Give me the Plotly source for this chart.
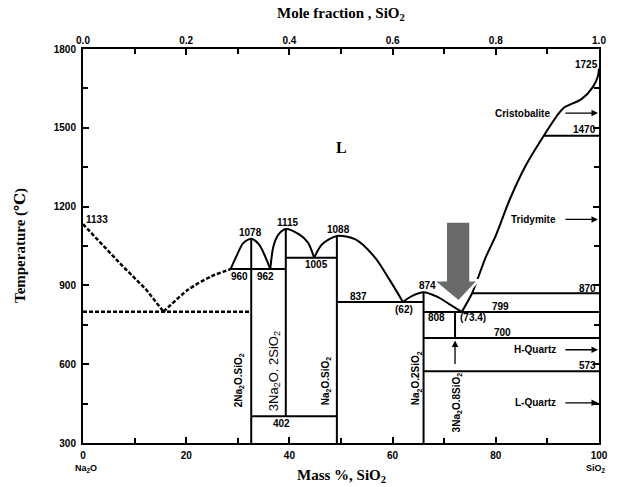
import plotly.graph_objects as go

# ---------------- data ----------------
# liquidus branches (mass % SiO2, temperature C)
dash_left_x = [0, 7.6, 12.2, 15.6]
dash_left_y = [1133, 975, 885, 800]
dash_right_x = [15.6, 20.4, 24.8, 28.6]
dash_right_y = [800, 884, 934, 962]
eutectic_dash_x = [0, 32.6]
eutectic_dash_y = [800, 800]

dome1_x = [28.6, 29.9, 31.0, 32.6, 34.1, 35.4, 36.3]
dome1_y = [962, 1018, 1060, 1078, 1056, 1006, 962]
dome2_x = [36.3, 36.9, 37.9, 39.3, 41.9, 43.6, 44.8]
dome2_y = [962, 1048, 1094, 1115, 1094, 1063, 1005]
dome3_x = [44.8, 46.3, 49.2, 52.8, 56.6, 59.4, 62.0]
dome3_y = [1005, 1056, 1088, 1075, 1006, 922, 837]
dome4_x = [62.0, 63.8, 66.0, 68.6, 70.9, 73.4]
dome4_y = [837, 860, 874, 857, 830, 799]
silica_x = [73.4, 75.4, 78.0, 80.0, 82.7, 85.7, 89.3, 92.2, 93.3, 96.6, 98.8, 99.8, 100]
silica_y = [799, 870, 1005, 1090, 1227, 1353, 1470, 1555, 1578, 1609, 1655, 1697, 1725]

# isotherms: (x0, x1, T)
iso_x0 = [28.6, 39.3, 49.2, 66.0, 75.4, 66.0, 66.0, 89.3, 32.6]
iso_x1 = [39.3, 49.2, 66.0, 100, 100, 100, 100, 100, 49.2]
iso_t = [962, 1005, 837, 799, 870, 700, 573, 1470, 402]

# compound verticals: (x, Tlow, Thigh)
vert_x = [32.6, 39.3, 49.2, 66.0, 72.1]
vert_lo = [300, 402, 300, 300, 700]
vert_hi = [1078, 1115, 1088, 874, 799]

# gray arrow outline
garrow_x = [70.3, 70.3, 67.8, 72.8, 76.7, 75.1, 75.1, 70.3]
garrow_y = [1143, 920, 920, 838, 920, 920, 1143, 1143]

# numeric labels
num_text = ["1133", "1078", "1115", "1088", "960", "962", "1005", "837", "(62)", "874",
            "808", "(73.4)", "799", "700", "870", "573", "1470", "1725", "402"]
num_x = [2.8, 32.4, 39.8, 49.5, 30.3, 35.3, 45.2, 53.4, 62.3, 66.7,
         68.6, 75.5, 81.0, 81.3, 97.8, 97.8, 97.2, 97.5, 38.5]
num_y = [1150, 1100, 1140, 1112, 932, 932, 978, 858, 810, 900,
         776, 776, 818, 722, 888, 596, 1492, 1742, 376]

phase_text = ["Cristobalite", "Tridymite", "H-Quartz", "L-Quartz"]
phase_x = [85.1, 87.4, 87.6, 87.6]
phase_t = [1556, 1151, 655, 453]

comp_text = ["2Na<sub>2</sub>O.SiO<sub>2</sub>", "3Na<sub>2</sub>O. 2SiO<sub>2</sub>",
             "Na<sub>2</sub>O.SiO<sub>2</sub>", "Na<sub>2</sub>O.2SiO<sub>2</sub>",
             "3Na<sub>2</sub>O.8SiO<sub>2</sub>"]
comp_x = [30.3, 37.1, 47.0, 64.6, 72.4]
comp_y = [540, 575, 537, 548, 453]
comp_size = [10, 13, 10, 10, 10]

mass_ticks = [0, 20, 40, 60, 80, 100]
mole_ticks = [0.0, 0.2, 0.4, 0.6, 0.8, 1.0]
temp_ticks = [300, 600, 900, 1200, 1500, 1800]

# ---------------- figure ----------------
NUMF = "Liberation Sans Narrow, Liberation Sans, Arial"
SERIF = "Liberation Serif, DejaVu Serif, serif"
LW = 2
DASH = "4px,2px"

fig = go.Figure()

def add_line(x, y, dash="solid", shape="linear", width=LW):
    fig.add_trace(go.Scatter(x=x, y=y, mode="lines",
                             line=dict(color="black", width=width, dash=dash, shape=shape,
                                       smoothing=0.8),
                             hoverinfo="skip", showlegend=False))

add_line(dash_left_x, dash_left_y, dash=DASH, width=2.5)
add_line(dash_right_x, dash_right_y, dash=DASH, shape="spline", width=2.5)
add_line(eutectic_dash_x, eutectic_dash_y, dash=DASH, width=2.5)
for xs, ys in [(dome1_x, dome1_y), (dome2_x, dome2_y), (dome3_x, dome3_y),
               (dome4_x, dome4_y), (silica_x, silica_y)]:
    add_line(xs, ys, shape="spline")
for a, b, t in zip(iso_x0, iso_x1, iso_t):
    add_line([a, b], [t, t])
for x, lo, hi in zip(vert_x, vert_lo, vert_hi):
    add_line([x, x], [lo, hi])

fig.add_trace(go.Scatter(x=garrow_x, y=garrow_y, mode="lines", fill="toself",
                         fillcolor="#6a6a6a", line=dict(color="white", width=2.5),
                         hoverinfo="skip", showlegend=False))

# dummy trace for top axis
fig.add_trace(go.Scatter(x=[mole_ticks[0], mole_ticks[-1]], y=[None, None], xaxis="x2",
                         mode="lines", hoverinfo="skip", showlegend=False))

ann = []
for t, x, y in zip(num_text, num_x, num_y):
    ann.append(dict(x=x, y=y, text=t, showarrow=False,
                    font=dict(family=NUMF, size=10, color="black", weight="bold")))
for t, x, y in zip(phase_text, phase_x, phase_t):
    ann.append(dict(x=x, y=y, text=t, showarrow=False,
                    font=dict(family=NUMF, size=10, color="black", weight="bold")))
    ann.append(dict(x=99.8, y=y, ax=93.2, ay=y, axref="x", ayref="y", text="",
                    showarrow=True, arrowhead=2, arrowsize=1, arrowwidth=1.3, arrowcolor="black"))
for t, x, y, s in zip(comp_text, comp_x, comp_y, comp_size):
    ann.append(dict(x=x, y=y, text=t, showarrow=False, textangle=-90,
                    font=dict(family=NUMF, size=s, color="black",
                              weight="bold" if s < 12 else "normal")))
# upward arrow under 3Na2O.8SiO2
ann.append(dict(x=72.1, y=690, ax=72.1, ay=595, axref="x", ayref="y", text="",
                showarrow=True, arrowhead=2, arrowsize=1, arrowwidth=1.3, arrowcolor="black"))
ann.append(dict(x=50, y=1426, text="L", showarrow=False,
                font=dict(family=SERIF, size=16, color="black", weight="bold")))
# end-member labels
ann.append(dict(x=0.5, y=0, yref="paper", yshift=-25, yanchor="middle", xanchor="center",
                text="Na<sub>2</sub>O", showarrow=False,
                font=dict(family=NUMF, size=9, color="black", weight="bold")))
ann.append(dict(x=99.5, y=0, yref="paper", yshift=-25, yanchor="middle", xanchor="center",
                text="SiO<sub>2</sub>", showarrow=False,
                font=dict(family=NUMF, size=9, color="black", weight="bold")))
# axis titles
ann.append(dict(x=0.5, y=0, xref="paper", yref="paper", yshift=-33, yanchor="middle",
                xanchor="center", text="Mass %, SiO<sub>2</sub>", showarrow=False,
                font=dict(family=SERIF, size=15, color="black", weight="bold")))
ann.append(dict(x=0.5, y=1, xref="paper", yref="paper", yshift=35, yanchor="middle",
                xanchor="center", text="Mole fraction , SiO<sub>2</sub>", showarrow=False,
                font=dict(family=SERIF, size=15, color="black", weight="bold")))
ann.append(dict(x=0, y=0.5, xref="paper", yref="paper", xshift=-63, textangle=-90,
                xanchor="center", yanchor="middle",
                text="Temperature (\u2103)", showarrow=False,
                font=dict(family=SERIF, size=15, color="black", weight="bold")))

tickfont = dict(family=NUMF, size=10, color="black", weight="bold")
fig.update_layout(
    width=617, height=487,
    margin=dict(l=83, r=9, t=49, b=44),
    paper_bgcolor="white", plot_bgcolor="white",
    annotations=ann,
    xaxis=dict(range=[0, 100], tickvals=mass_ticks, ticktext=[str(v) for v in mass_ticks],
               ticks="inside", ticklen=6, tickwidth=1.5, tickcolor="black",
               minor=dict(tickvals=[10, 30, 50, 70, 90], ticks="inside", ticklen=5,
                          tickwidth=1.5, tickcolor="black"),
               showline=True, linewidth=2, linecolor="black", mirror=True,
               showgrid=False, zeroline=False, tickfont=tickfont, ticklabelstandoff=2),
    xaxis2=dict(range=[0, 1], overlaying="x", side="top", anchor="y",
                tickvals=mole_ticks, ticktext=["%.1f" % v for v in mole_ticks],
                ticks="inside", ticklen=6, tickwidth=1.5, tickcolor="black",
                minor=dict(tickvals=[0.1, 0.3, 0.5, 0.7, 0.9], ticks="inside", ticklen=5,
                           tickwidth=1.5, tickcolor="black"),
                showgrid=False, zeroline=False, tickfont=tickfont, ticklabelstandoff=2),
    yaxis=dict(range=[300, 1800], tickvals=temp_ticks, ticktext=[str(v) for v in temp_ticks],
               ticks="inside", ticklen=6, tickwidth=1.5, tickcolor="black",
               minor=dict(dtick=150, tick0=300, ticks="inside", ticklen=5,
                          tickwidth=1.5, tickcolor="black"),
               showline=True, linewidth=2, linecolor="black", mirror="ticks",
               showgrid=False, zeroline=False, tickfont=tickfont, ticklabelstandoff=3),
)

fig.write_html("out.html")
